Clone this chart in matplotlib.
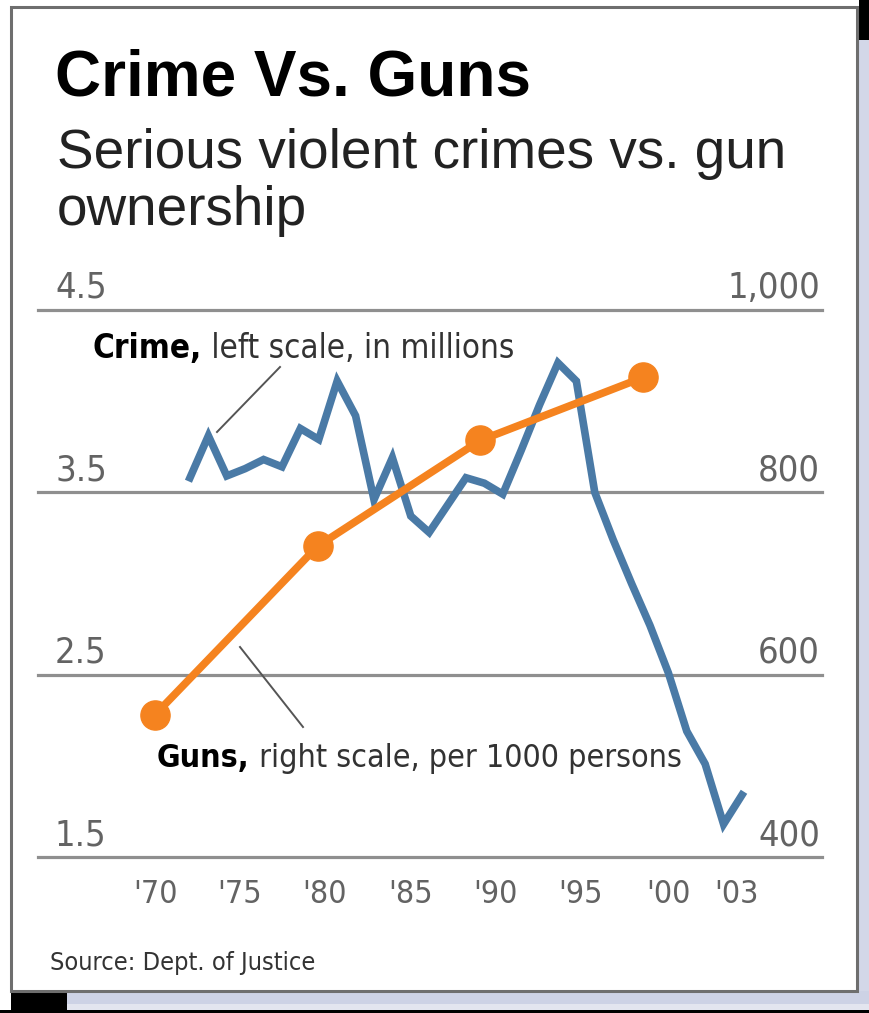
import matplotlib
matplotlib.use('Agg')
import matplotlib.pyplot as plt
from matplotlib.patches import Rectangle
from matplotlib.lines import Line2D

W, H = 869, 1013

crime_years = list(range(1973, 2004))
crime_millions = [3.58, 3.81, 3.59, 3.63, 3.68, 3.64, 3.85, 3.79, 4.11, 3.92,
                  3.46, 3.69, 3.37, 3.28, 3.43, 3.58, 3.55, 3.49, 3.73, 3.98,
                  4.21, 4.11, 3.50, 3.24, 3.00, 2.77, 2.51, 2.19, 2.01, 1.68, 1.84]
gun_years = [1970, 1980, 1990, 2000]
guns_per_1000 = [556, 741, 857, 926]

left_ticks = [1.5, 2.5, 3.5, 4.5]
left_labels = ['1.5', '2.5', '3.5', '4.5']
right_ticks = [400, 600, 800, 1000]
right_labels = ['400', '600', '800', '1,000']
year_labels = ["'70", "'75", "'80", "'85", "'90", "'95", "'00", "'03"]
# the labels in the original drift against the data, so they sit where printed
year_label_pos = [1971.1, 1975.7, 1980.3, 1985.0, 1989.6, 1994.2, 1999.0, 2002.7]

BLUE = '#4a7aa6'
ORANGE = '#f5831f'
GRID = '#8f8f8f'
TICK = '#636363'
NARROW = dict(family=['DejaVu Sans'], fontstretch='condensed')
SANS = ['Liberation Sans', 'DejaVu Sans']


def fx(px):
    return px / W


def fy(py):
    return 1 - py / H


def box(fig, x0, y0, x1, y1, color, **kw):
    fig.add_artist(Rectangle((fx(x0), fy(y1)), (x1 - x0) / W, (y1 - y0) / H,
                             transform=fig.transFigure, facecolor=color,
                             edgecolor='none', **kw))


fig = plt.figure(figsize=(W / 100, H / 100), dpi=100)
fig.patch.set_facecolor('white')

# frame with drop shadow
box(fig, 857, 40, 869, 1004, '#d3d7e8')
box(fig, 67, 991, 869, 1004, '#cdd2e5')
box(fig, 67, 1004, 869, 1010, '#e3e5ef')
box(fig, 0, 1010, 869, 1013, 'black')
box(fig, 859, 0, 869, 40, 'black')
box(fig, 11, 992, 67, 1013, 'black')
fig.add_artist(Rectangle((fx(11), fy(991)), (857 - 11) / W, (991 - 7) / H,
                         transform=fig.transFigure, fill=False,
                         edgecolor='#6e6e6e', lw=2.2))

ax = fig.add_axes([fx(38), fy(857), (822 - 38) / W, (857 - 310) / H])
ax.set_xlim(1964.74, 2007.35)
ax.set_ylim(1.5, 4.5)
for v in left_ticks:
    ax.axhline(v, color=GRID, lw=2.3, zorder=1, clip_on=False)
ax.plot(crime_years, crime_millions, color=BLUE, lw=5.5, zorder=3,
        solid_joinstyle='miter', clip_on=False)
ax.set_yticks([])
ax.set_xticks(year_label_pos, year_labels)
ax.tick_params(axis='x', length=0, pad=16, labelsize=23, labelcolor=TICK)
for lab in ax.get_xticklabels():
    lab.set_family(NARROW['family'])
    lab.set_fontstretch('condensed')
for sp in ax.spines.values():
    sp.set_visible(False)
ax.patch.set_alpha(0)

for v, s in zip(left_ticks, left_labels):
    ax.annotate(s, xy=(0, v), xycoords=('axes fraction', 'data'),
                xytext=(17, 12), textcoords='offset pixels', ha='left',
                va='baseline', fontsize=26, color=TICK,
                annotation_clip=False, **NARROW)

axg = fig.add_axes(ax.get_position())
axg.set_xlim(1962.81, 2011.0)
axg.set_ylim(400, 1000)
axg.plot(gun_years, guns_per_1000, color=ORANGE, lw=5.5, marker='o',
         markersize=21, zorder=4, clip_on=False)
axg.axis('off')
for v, s in zip(right_ticks, right_labels):
    axg.annotate(s, xy=(1, v), xycoords=('axes fraction', 'data'),
                 xytext=(-2, 12), textcoords='offset pixels', ha='right',
                 va='baseline', fontsize=26, color=TICK,
                 annotation_clip=False, **NARROW)

# titles
fig.text(fx(55), fy(95), 'Crime Vs. Guns', fontsize=46, fontweight='bold',
         family=SANS, va='baseline')
fig.text(fx(57), fy(168), 'Serious violent crimes vs. gun', fontsize=39.5,
         family=SANS, va='baseline', color='#222222')
fig.text(fx(57), fy(225), 'ownership', fontsize=39.5, family=SANS,
         va='baseline', color='#222222')

# series labels
t1 = fig.text(fx(93), fy(358), 'Crime,', fontsize=23.8, fontweight='bold',
              va='baseline', **NARROW)
axg.annotate(' left scale, in millions', xy=(1, 0), xycoords=t1,
             va='bottom', fontsize=23.8, color='#333333',
             annotation_clip=False, **NARROW)
t2 = fig.text(fx(157), fy(767), 'Guns,', fontsize=23, fontweight='bold',
              va='baseline', **NARROW)
axg.annotate(' right scale, per 1000 persons', xy=(1, 0), xycoords=t2,
             va='bottom', fontsize=23, color='#333333',
             annotation_clip=False, **NARROW)
fig.add_artist(Line2D([fx(217), fx(280)], [fy(432), fy(367)],
                      transform=fig.transFigure, color='#555555', lw=1.4))
fig.add_artist(Line2D([fx(240), fx(303)], [fy(647), fy(727)],
                      transform=fig.transFigure, color='#555555', lw=1.4))

fig.text(fx(50), fy(970), 'Source: Dept. of Justice', fontsize=18.2,
         va='baseline', color='#333333', **NARROW)

fig.savefig('out.png', dpi=100)
